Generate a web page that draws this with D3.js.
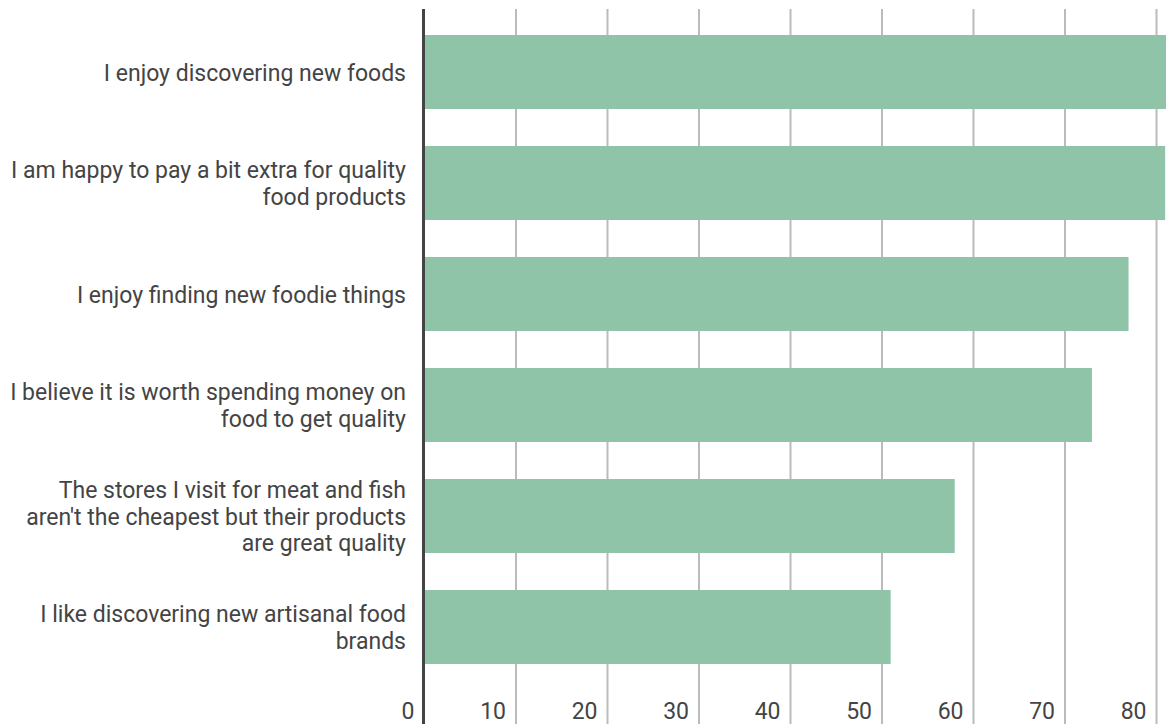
<!DOCTYPE html>
<html>
<head>
<meta charset="utf-8">
<script src="https://cdn.jsdelivr.net/npm/d3@7"></script>
<style>
  html, body { margin: 0; padding: 0; background: #fff; }
  svg { display: block; }
  text { font-family: Roboto, "Noto Sans", sans-serif; fill: #444; }
</style>
</head>
<body>
<svg id="chart" width="1166" height="724"></svg>
<script>
// Survey statements (line breaks mark how each label wraps)
const categories = [
  "I enjoy discovering new foods",
  "I am happy to pay a bit extra for quality\nfood products",
  "I enjoy finding new foodie things",
  "I believe it is worth spending money on\nfood to get quality",
  "The stores I visit for meat and fish\naren't the cheapest but their products\nare great quality",
  "I like discovering new artisanal food\nbrands"
];
// Share of respondents agreeing (%)
const values = [82, 81, 77, 73, 58, 51];
// Value axis ticks
const tickValues = [0, 10, 20, 30, 40, 50, 60, 70, 80];

const width = 1166, height = 724;
const plotLeft = 424, plotTop = 9, plotBottom = 724;

const svg = d3.select("#chart");

const x = d3.scaleLinear().domain([0, 80]).range([plotLeft, 1156]);
const y = d3.scaleBand()
  .domain(categories)
  .range([16.5, 682.5])
  .paddingInner(1 / 3)
  .paddingOuter(1 / 6);

// Vertical gridlines and value labels
const xAxis = d3.axisBottom(x)
  .tickValues(tickValues)
  .tickSize(-(plotBottom - plotTop))
  .tickFormat(d3.format("d"));

const gx = svg.append("g")
  .attr("transform", `translate(0,${plotBottom})`)
  .call(xAxis);
gx.select(".domain").remove();
gx.selectAll(".tick line")
  .attr("stroke", "#bbb")
  .attr("stroke-width", 2)
  .attr("opacity", d => d === 0 ? 0 : 1);
gx.selectAll(".tick text")
  .attr("text-anchor", "end")
  .attr("x", -10)
  .attr("y", -5)
  .attr("dy", 0)
  .style("font-size", "23px")
  .style("fill", "#444");

// Bars
svg.append("g")
  .selectAll("rect")
  .data(categories)
  .join("rect")
  .attr("x", x(0))
  .attr("y", d => y(d))
  .attr("width", (d, i) => x(values[i]) - x(0))
  .attr("height", y.bandwidth())
  .attr("fill", "#8fc4a8");

// Zero baseline
svg.append("line")
  .attr("x1", x(0) - 0.5).attr("x2", x(0) - 0.5)
  .attr("y1", plotTop).attr("y2", plotBottom)
  .attr("stroke", "#444")
  .attr("stroke-width", 3);

// Category labels, right-aligned and vertically centred on each bar
const yAxis = d3.axisLeft(y).tickSize(0).tickFormat("");
const gy = svg.append("g")
  .attr("transform", `translate(${plotLeft - 18},0)`)
  .call(yAxis);
gy.select(".domain").remove();
const lineH = 26.8;
gy.selectAll(".tick").each(function (d) {
  const lines = d.split("\n");
  const t = d3.select(this).append("text")
    .attr("text-anchor", "end")
    .style("font-size", "23px")
    .style("fill", "#444");
  lines.forEach((ln, k) => {
    t.append("tspan")
      .attr("x", 0)
      .attr("y", (k - (lines.length - 1) / 2) * lineH + 8.5)
      .text(ln);
  });
});
</script>
</body>
</html>
